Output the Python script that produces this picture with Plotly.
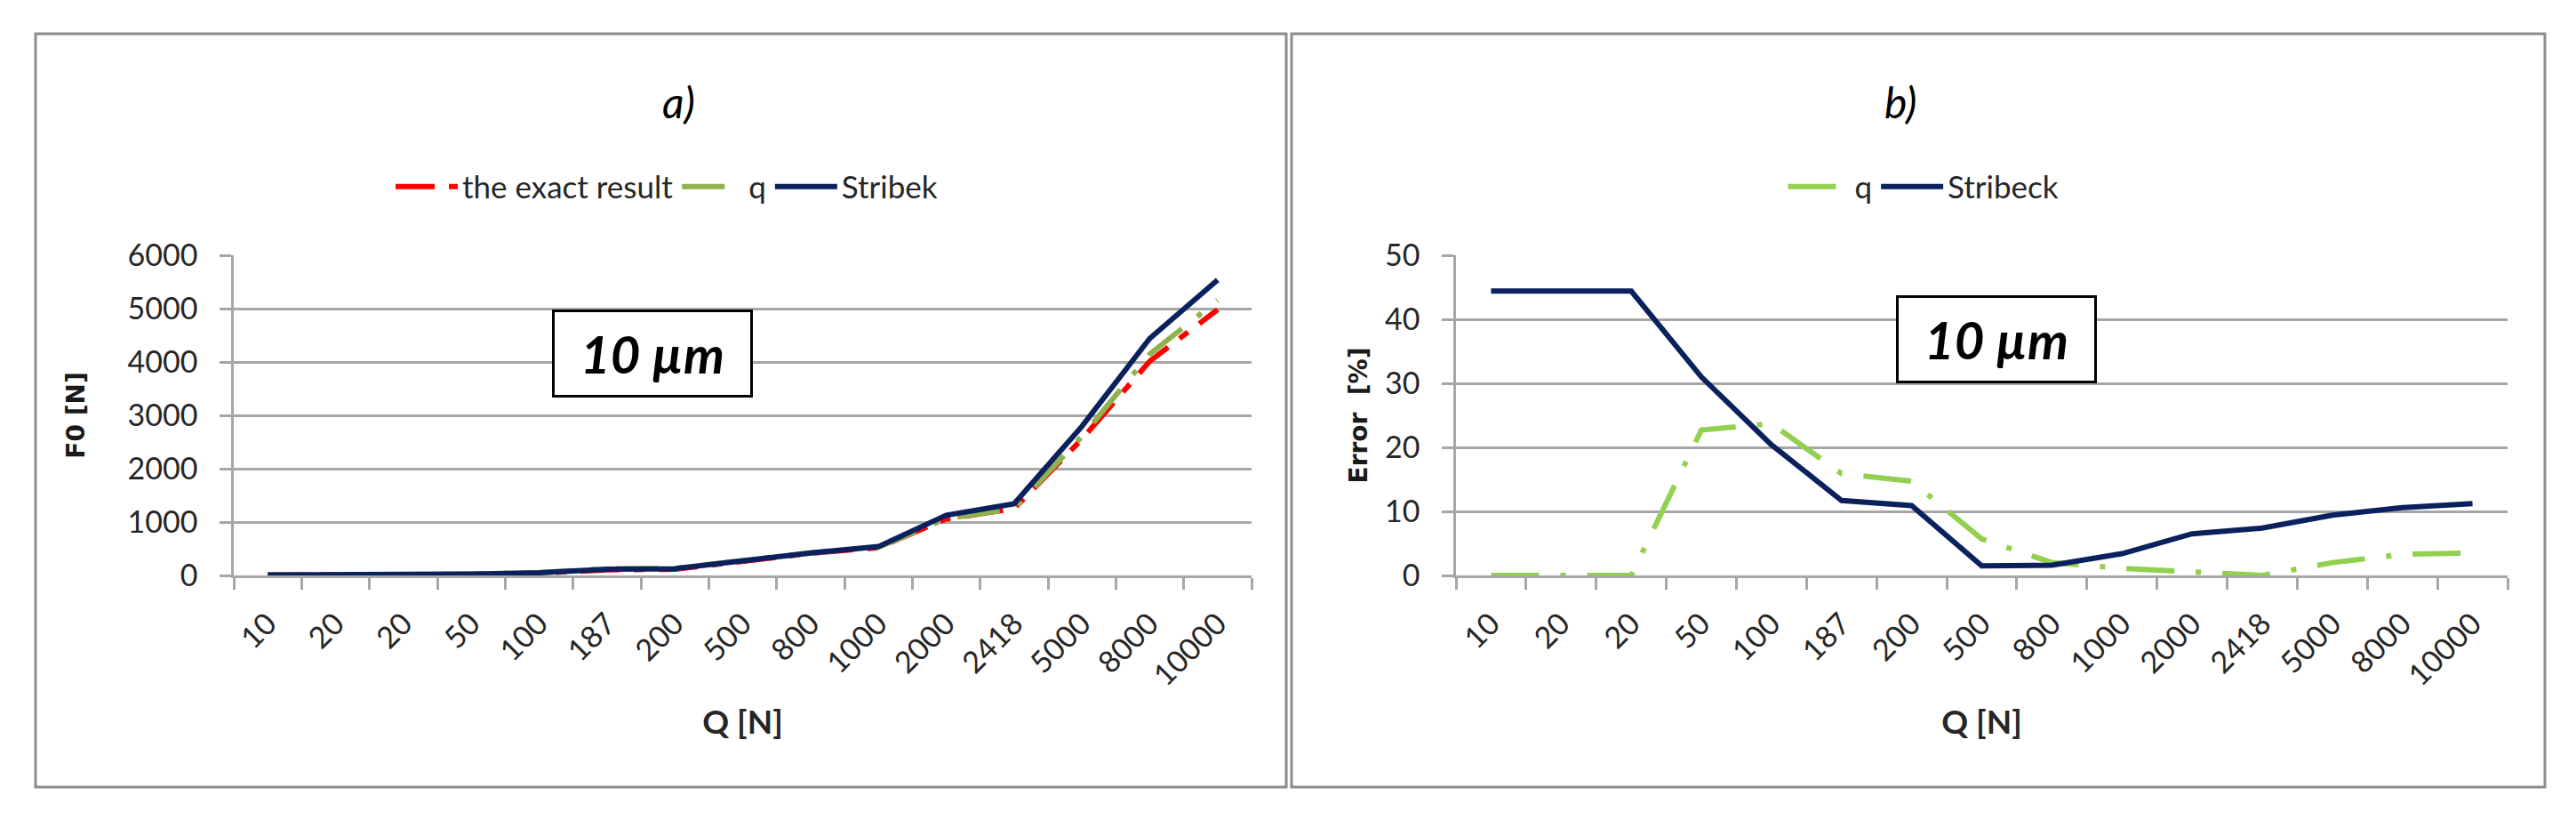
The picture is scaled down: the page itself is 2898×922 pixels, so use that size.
import plotly.graph_objects as go

# ---- data ----
q_labels = ["10", "20", "20", "50", "100", "187", "200", "500", "800", "1000",
            "2000", "2418", "5000", "8000", "10000"]
idx = list(range(len(q_labels)))

# chart a) F0 [N]
f0_exact = [7, 10, 10, 19, 42, 106, 115, 271, 413, 522, 1058, 1250, 2554, 4015, 4981]
f0_q = [7, 10, 10, 23, 52, 123, 132, 286, 421, 528, 1065, 1250, 2605, 4148, 5155]
f0_stribek = [10, 14, 14, 25, 50, 118, 127, 275, 420, 540, 1127, 1343, 2794, 4441, 5539]

# chart b) Error [%]
err_q = [0, 0, 0, 22.7, 23.7, 15.9, 14.7, 5.7, 2.0, 1.1, 0.6, 0, 2.0, 3.3, 3.5]
err_stribeck = [44.4, 44.4, 44.4, 31.0, 20.4, 11.7, 10.9, 1.5, 1.6, 3.4, 6.5, 7.4, 9.4, 10.6, 11.2]

W, H = 2898, 922
NAVY = "#0A215E"
RED = "#FF0000"
OLIVE = "#8FB24E"
LIME = "#92D050"
GRID = "#A6A6A6"
TXT = "#262626"
FONT = "Lato"

def px(xp):
    return xp / W

def py(yp):
    return 1 - yp / H

fig = go.Figure()

fig.add_trace(go.Scatter(x=idx, y=f0_exact, name="the exact result", mode="lines",
                         line=dict(color=RED, width=6, dash="44px,16px,12px,16px"),
                         xaxis="x", yaxis="y", legend="legend"))
fig.add_trace(go.Scatter(x=idx, y=f0_q, name="q", mode="lines",
                         line=dict(color=OLIVE, width=6, dash="48px,22px,6px,22px"),
                         xaxis="x", yaxis="y", legend="legend"))
fig.add_trace(go.Scatter(x=idx, y=f0_stribek, name="Stribek", mode="lines",
                         line=dict(color=NAVY, width=6),
                         xaxis="x", yaxis="y", legend="legend"))

fig.add_trace(go.Scatter(x=idx, y=err_q, name="q", mode="lines",
                         line=dict(color=LIME, width=6, dash="54px,24px,6px,24px"),
                         xaxis="x2", yaxis="y2", legend="legend2"))
fig.add_trace(go.Scatter(x=idx, y=err_stribeck, name="Stribeck", mode="lines",
                         line=dict(color=NAVY, width=6),
                         xaxis="x2", yaxis="y2", legend="legend2"))

tickfont = dict(family=FONT, size=34, color=TXT)

def xaxis_cfg(domain, anchor):
    return dict(
        domain=domain, anchor=anchor, range=[-0.5, 14.5],
        tickmode="array", tickvals=idx, ticktext=q_labels, tickangle=-45,
        ticks="", ticklen=0, tickfont=tickfont, ticklabelstandoff=18,
        showline=True, linecolor=GRID, linewidth=2.5, showgrid=False, zeroline=False,
        minor=dict(tickmode="array", tickvals=[i - 0.5 for i in range(16)],
                   ticks="outside", ticklen=13, tickcolor=GRID, tickwidth=2.5, showgrid=False),
        title=dict(text="<b>Q [N]</b>", font=dict(family=FONT, size=37, color=TXT), standoff=22),
        automargin=False,
    )

def yaxis_cfg(domain, anchor, rng, dtick, title, standoff):
    return dict(
        domain=domain, anchor=anchor, range=rng, dtick=dtick,
        showgrid=True, gridcolor=GRID, gridwidth=2.5,
        showline=True, linecolor=GRID, linewidth=2.5, zeroline=False,
        ticks="outside", ticklen=13, tickcolor=GRID, tickwidth=2.5,
        tickfont=tickfont, ticklabelstandoff=18,
        title=dict(text=title, font=dict(family="DejaVu Sans", size=28, color="#1a1a1a"),
                   standoff=standoff),
        automargin=False,
    )

ydom = [py(647), py(287)]
fig.update_layout(
    width=W, height=H,
    margin=dict(l=0, r=0, t=0, b=0),
    paper_bgcolor="white", plot_bgcolor="white",
    xaxis=xaxis_cfg([px(263), px(1408)], "y"),
    yaxis=yaxis_cfg(ydom, "x", [0, 6000], 1000, "<b>F0 [N]</b>", 40),
    xaxis2=xaxis_cfg([px(1638), px(2821)], "y2"),
    yaxis2=yaxis_cfg(ydom, "x2", [0, 50], 10, "<b>Error  [%]</b>", 12),
    legend=dict(orientation="h", x=px(750), y=py(210), xanchor="center", yanchor="middle",
                font=dict(family=FONT, size=35, color=TXT), bgcolor="rgba(0,0,0,0)",
                itemwidth=70, tracegroupgap=0),
    legend2=dict(orientation="h", x=px(2164), y=py(210), xanchor="center", yanchor="middle",
                 font=dict(family=FONT, size=35, color=TXT), bgcolor="rgba(0,0,0,0)",
                 itemwidth=70, tracegroupgap=0),
    showlegend=True,
)

# panel frames
fig.add_shape(type="rect", xref="paper", yref="paper",
              x0=px(40), x1=px(1447), y0=py(885), y1=py(38),
              line=dict(color="#8C8C8C", width=3), layer="below")
fig.add_shape(type="rect", xref="paper", yref="paper",
              x0=px(1453), x1=px(2863), y0=py(885), y1=py(38),
              line=dict(color="#8C8C8C", width=3), layer="below")

# panel titles
fig.add_annotation(text="<i>a)</i>", xref="paper", yref="paper", x=px(743), y=py(84),
                   showarrow=False, font=dict(family=FONT, size=48, color="black"))
fig.add_annotation(text="<i>b)</i>", xref="paper", yref="paper", x=px(2158), y=py(84),
                   showarrow=False, font=dict(family=FONT, size=48, color="black"))

# "10 µm" boxes
for cx, cy in [(734, 397), (2246, 381)]:
    fig.add_annotation(text="<b><i>10 µm</i></b>", xref="paper", yref="paper",
                       x=px(cx), y=py(cy), xanchor="center", yanchor="middle",
                       showarrow=False, width=220, height=93, borderpad=0,
                       bordercolor="black", borderwidth=3, bgcolor="white",
                       font=dict(family=FONT, size=58, color="black"))

fig.write_html("out.html", config={"displayModeBar": False},
               post_script="document.body.style.margin='0';")
